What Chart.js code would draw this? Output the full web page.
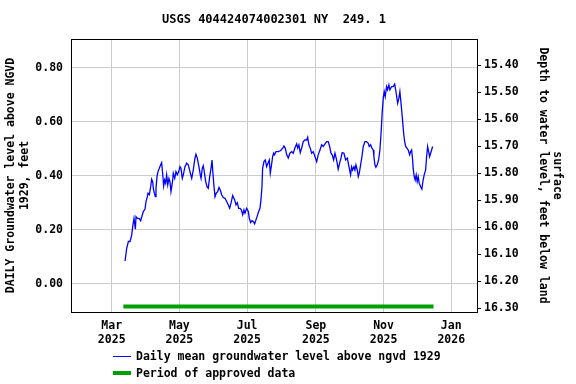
<!DOCTYPE html>
<html><head><meta charset="utf-8">
<script src="https://cdn.jsdelivr.net/npm/chart.js@4/dist/chart.umd.min.js"></script>
<style>html,body{margin:0;padding:0;background:#fff;}#wrap{width:576px;height:384px;}</style>
</head><body><div id="wrap"><canvas id="c" width="576" height="384"></canvas></div>
<script>
const chartTitle = 'USGS 404424074002301 NY  249. 1';
const seriesLabel = 'Daily mean groundwater level above ngvd 1929';
const approvedLabel = 'Period of approved data';
const leftAxisTitle = ['DAILY Groundwater level above NGVD', '1929, feet'];
const rightAxisTitle = ['surface', 'Depth to water level, feet below land'];
// days since 2025-03-01
const days = [
12.0,13.5,15.0,16.5,18.0,18.9,20.1,21.3,21.9,23.1,
24.6,26.1,27.6,28.5,30.0,30.9,32.1,32.7,33.9,35.1,
36.0,36.9,37.5,38.4,39.3,39.9,40.8,41.7,42.9,44.1,
45.0,45.9,46.8,47.7,48.6,49.5,50.5,51.6,52.5,53.4,
54.6,55.5,56.8,57.9,59.1,60.4,61.5,62.4,63.6,64.5,
66.0,67.6,69.0,70.5,72.1,73.5,75.0,75.9,77.1,78.6,
79.8,80.5,81.6,82.5,83.4,84.7,85.9,87.0,88.3,89.5,
90.4,91.3,92.2,93.1,94.2,95.5,96.7,97.8,99.1,100.5,
102.1,103.6,105.0,106.3,107.5,109.0,110.8,112.0,113.2,114.4,
115.6,116.8,118.0,119.2,120.1,121.6,123.1,124.0,125.2,126.4,
127.6,128.8,130.0,131.2,132.4,133.6,134.5,135.4,136.0,137.2,
138.4,139.6,140.8,142.0,142.9,143.8,145.0,145.9,146.8,148.0,
150.1,152.3,154.1,155.2,156.4,157.7,159.1,160.6,162.2,163.6,
165.1,166.7,167.6,168.7,169.9,171.2,172.6,174.1,175.7,176.6,
177.7,178.9,180.2,181.6,183.2,184.7,186.1,187.7,189.2,190.6,
192.2,193.7,195.1,196.4,197.6,198.7,200.0,201.2,202.3,203.2,
204.1,205.4,206.6,207.7,209.3,210.8,212.3,213.2,214.1,215.3,
216.2,217.1,218.3,219.2,220.1,221.3,222.2,223.1,224.3,225.5,
226.7,228.2,229.7,231.2,232.1,233.3,234.5,235.7,236.3,237.2,
238.1,239.3,240.5,241.7,242.9,243.8,244.7,245.6,246.5,247.7,
248.6,249.8,250.7,252.3,253.7,255.0,255.9,256.8,257.7,258.8,
259.7,260.6,261.3,262.2,263.1,264.0,264.9,266.0,267.2,268.5,
269.4,270.3,271.2,271.7,272.6,273.5,274.4,275.3,276.2,277.1,
278.4,279.5,280.4,281.6,282.9,283.8,284.7,285.6,286.5,287.4,
288.3,289.2
];
const levels = [
0.085,0.132,0.157,0.157,0.181,0.212,0.243,0.203,0.249,0.243,
0.243,0.234,0.256,0.268,0.277,0.305,0.323,0.336,0.330,0.360,
0.388,0.379,0.354,0.336,0.323,0.354,0.397,0.416,0.428,0.441,
0.449,0.410,0.363,0.385,0.373,0.404,0.367,0.391,0.379,0.342,
0.373,0.410,0.391,0.416,0.404,0.416,0.434,0.428,0.391,0.404,
0.434,0.447,0.441,0.416,0.391,0.422,0.466,0.480,0.466,0.434,
0.404,0.391,0.428,0.438,0.416,0.379,0.360,0.354,0.397,0.428,
0.459,0.404,0.360,0.323,0.336,0.342,0.357,0.348,0.330,0.320,
0.317,0.305,0.293,0.280,0.299,0.327,0.311,0.293,0.301,0.280,
0.280,0.274,0.256,0.274,0.262,0.280,0.268,0.243,0.227,0.234,
0.231,0.222,0.237,0.252,0.268,0.280,0.311,0.360,0.428,0.453,
0.459,0.434,0.447,0.459,0.410,0.434,0.471,0.484,0.478,0.490,
0.490,0.494,0.503,0.511,0.503,0.478,0.466,0.484,0.490,0.484,
0.503,0.519,0.503,0.515,0.486,0.503,0.527,0.533,0.533,0.543,
0.515,0.503,0.484,0.490,0.471,0.453,0.478,0.496,0.515,0.509,
0.519,0.527,0.527,0.509,0.484,0.478,0.459,0.484,0.466,0.447,
0.425,0.447,0.466,0.486,0.484,0.459,0.466,0.447,0.428,0.404,
0.434,0.422,0.434,0.422,0.441,0.422,0.397,0.410,0.441,0.471,
0.509,0.527,0.527,0.521,0.509,0.515,0.503,0.496,0.471,0.441,
0.432,0.441,0.459,0.496,0.570,0.638,0.688,0.712,0.694,0.731,
0.719,0.737,0.719,0.731,0.731,0.740,0.719,0.694,0.669,0.688,
0.712,0.675,0.644,0.601,0.558,0.527,0.509,0.503,0.496,0.478,
0.490,0.496,0.459,0.428,0.397,0.385,0.404,0.379,0.397,0.373,
0.360,0.351,0.379,0.404,0.422,0.471,0.509,0.490,0.471,0.484,
0.496,0.509
];
const approvedDays = [10.5, 290.0];
const approvedLevels = [-0.084, -0.084];
const monthTickDays = [0, 61, 122, 184, 245, 306];
const monthTickLabels = [['Mar','2025'],['May','2025'],['Jul','2025'],['Sep','2025'],['Nov','2025'],['Jan','2026']];
const levelTicks = [0.0, 0.2, 0.4, 0.6, 0.8];
const depthTicks = [15.4, 15.5, 15.6, 15.7, 15.8, 15.9, 16.0, 16.1, 16.2, 16.3];
const landDatum = 16.21; // depth = landDatum - level

const FONT = '"DejaVu Sans Mono", monospace';
const levelMin = -0.104, levelMax = 0.907;

const framePlugin = {
  id: 'frame',
  afterDraw(chart) {
    const {ctx, chartArea: a} = chart;
    ctx.save();
    ctx.strokeStyle = '#000'; ctx.lineWidth = 1;
    ctx.strokeRect(Math.round(a.left) + 0.5, Math.round(a.top) + 0.5, Math.round(a.right - a.left), Math.round(a.bottom - a.top));
    ctx.fillStyle = '#000';
    ctx.font = 'bold 12px ' + FONT;
    ctx.textAlign = 'center'; ctx.textBaseline = 'middle';
    ctx.fillText(chartTitle, (a.left + a.right) / 2, 20);
    // legend
    ctx.font = 'bold 11.5px ' + FONT;
    ctx.textAlign = 'left';
    ctx.strokeStyle = '#0000ff'; ctx.lineWidth = 1;
    ctx.beginPath(); ctx.moveTo(113, 356.5); ctx.lineTo(131, 356.5); ctx.stroke();
    ctx.fillText(seriesLabel, 136, 357);
    ctx.strokeStyle = '#00a000'; ctx.lineWidth = 4;
    ctx.beginPath(); ctx.moveTo(113, 373); ctx.lineTo(131, 373); ctx.stroke();
    ctx.fillText(approvedLabel, 136, 374);
    ctx.restore();
  }
};

new Chart(document.getElementById('c'), {
  type: 'line',
  data: {
    datasets: [
      {
        label: approvedLabel,
        data: approvedDays.map((d, i) => ({x: d, y: approvedLevels[i]})),
        borderColor: '#00a000', borderWidth: 4, pointRadius: 0, yAxisID: 'y', borderCapStyle: 'butt'
      },
      {
        label: seriesLabel,
        data: days.map((d, i) => ({x: d, y: levels[i]})),
        borderColor: '#0000ff', borderWidth: 1.3, pointRadius: 0, tension: 0, yAxisID: 'y'
      }
    ]
  },
  options: {
    responsive: false, animation: false, devicePixelRatio: 1,
    layout: {padding: {top: 39, left: 0, right: 0, bottom: 0}},
    plugins: {legend: {display: false}, tooltip: {enabled: false}, title: {display: false}},
    scales: {
      x: {
        type: 'linear', position: 'bottom', min: -36.7, max: 329.2,
        afterBuildTicks: s => { s.ticks = monthTickDays.map(v => ({value: v})); },
        afterFit: s => { s.height = 72; },
        ticks: {
          autoSkip: false, maxRotation: 0, padding: 7, color: '#000',
          font: {family: FONT, size: 11.5, weight: 'bold', lineHeight: 1.22},
          callback: v => monthTickLabels[monthTickDays.indexOf(v)]
        },
        grid: {color: '#cccccc', drawTicks: false},
        border: {color: '#000'}
      },
      y: {
        type: 'linear', position: 'left', min: levelMin, max: levelMax,
        afterBuildTicks: s => { s.ticks = levelTicks.map(v => ({value: v})); },
        afterFit: s => { s.width = 71; },
        ticks: {padding: 8, color: '#000', font: {family: FONT, size: 11.5, weight: 'bold'}, callback: v => v.toFixed(2)},
        grid: {color: '#cccccc', drawTicks: false},
        border: {color: '#000'},
        title: {display: true, text: leftAxisTitle, color: '#000', padding: {top: 4, bottom: 0},
          font: {family: FONT, size: 11.5, weight: 'bold', lineHeight: 1.2}}
      },
      y2: {
        type: 'linear', position: 'right', reverse: true,
        min: landDatum - levelMax, max: landDatum - levelMin,
        afterBuildTicks: s => { s.ticks = depthTicks.map(v => ({value: v})); },
        afterFit: s => { s.width = 99; },
        ticks: {padding: 3, color: '#000', font: {family: FONT, size: 11.5, weight: 'bold'}, callback: v => v.toFixed(2)},
        grid: {drawOnChartArea: false, drawTicks: true, tickLength: 4, tickColor: '#000'},
        border: {color: '#000'},
        title: {display: true, text: rightAxisTitle, color: '#000', padding: {top: 12, bottom: 0},
          font: {family: FONT, size: 11.5, weight: 'bold', lineHeight: 1.2}}
      }
    }
  },
  plugins: [framePlugin]
});
</script></body></html>
